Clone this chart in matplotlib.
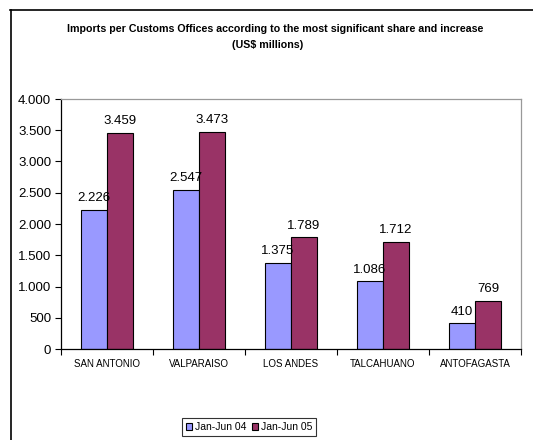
import matplotlib
matplotlib.use("Agg")
import matplotlib.pyplot as plt
from matplotlib.lines import Line2D
import numpy as np

plt.rcParams['font.family'] = ['Liberation Sans', 'DejaVu Sans']

offices = ["SAN ANTONIO", "VALPARAISO", "LOS ANDES", "TALCAHUANO", "ANTOFAGASTA"]
jan_jun_04 = [2226, 2547, 1375, 1086, 410]
jan_jun_05 = [3459, 3473, 1789, 1712, 769]
series_names = ["Jan-Jun 04", "Jan-Jun 05"]
yticks = [0, 500, 1000, 1500, 2000, 2500, 3000, 3500, 4000]

color_04 = "#9999FF"
color_05 = "#993366"

def fmt(v):
    return f"{v:,}".replace(",", ".")

W, H = 533, 440
fig = plt.figure(figsize=(W / 100, H / 100), dpi=100)

# outer chart frame (top and left edges)
fig.add_artist(Line2D([10 / W, 1.0], [1 - 10 / H, 1 - 10 / H], color="black", lw=1.2))
fig.add_artist(Line2D([11 / W, 11 / W], [1 - 10 / H, 0], color="black", lw=1.2))

ax = fig.add_axes([61 / W, 1 - 349 / H, (521 - 61) / W, (349 - 99) / H])

x = np.arange(len(offices))
bw = 0.283
b1 = ax.bar(x - bw / 2, jan_jun_04, bw, color=color_04, edgecolor="black", lw=0.8, label=series_names[0])
b2 = ax.bar(x + bw / 2, jan_jun_05, bw, color=color_05, edgecolor="black", lw=0.8, label=series_names[1])

for bars, vals in ((b1, jan_jun_04), (b2, jan_jun_05)):
    for r, v in zip(bars, vals):
        ax.text(r.get_x() + r.get_width() / 2, v + 90, fmt(v), ha="center", va="bottom", fontsize=9.5)

ax.set_xlim(-0.5, len(offices) - 0.5)
ax.set_ylim(0, 4000)
ax.set_yticks(yticks)
ax.set_yticklabels([fmt(v) for v in yticks], fontsize=9.5)
ax.set_xticks(x)
ax.set_xticklabels(offices, fontsize=7)
ax.tick_params(axis="x", length=0, pad=7)
ax.set_xticks(np.arange(len(offices) + 1) - 0.5, minor=True)
ax.tick_params(axis="x", which="minor", length=4, direction="out", width=0.8)
ax.tick_params(axis="y", length=4, direction="out", width=0.8, pad=3)

for s in ("top", "right"):
    ax.spines[s].set_color("#999999")
    ax.spines[s].set_linewidth(0.9)
for s in ("left", "bottom"):
    ax.spines[s].set_color("black")
    ax.spines[s].set_linewidth(0.9)

fig.text(275 / W, 1 - 29 / H, "Imports per Customs Offices according to the most significant share and increase",
         ha="center", va="center", fontsize=7.7, fontweight="bold")
fig.text(268 / W, 1 - 45 / H, "(US$ millions)", ha="center", va="center", fontsize=7.7, fontweight="bold")

leg = fig.legend(handles=[b1, b2], labels=series_names, loc="center", bbox_to_anchor=(249 / W, 1 - 427 / H),
                 ncol=2, fontsize=7.5, frameon=True, fancybox=False, edgecolor="black",
                 handlelength=0.6, handleheight=0.6, handletextpad=0.3, columnspacing=0.5,
                 borderpad=0.35, borderaxespad=0)
leg.get_frame().set_linewidth(0.8)

fig.savefig("out.png", dpi=100)
